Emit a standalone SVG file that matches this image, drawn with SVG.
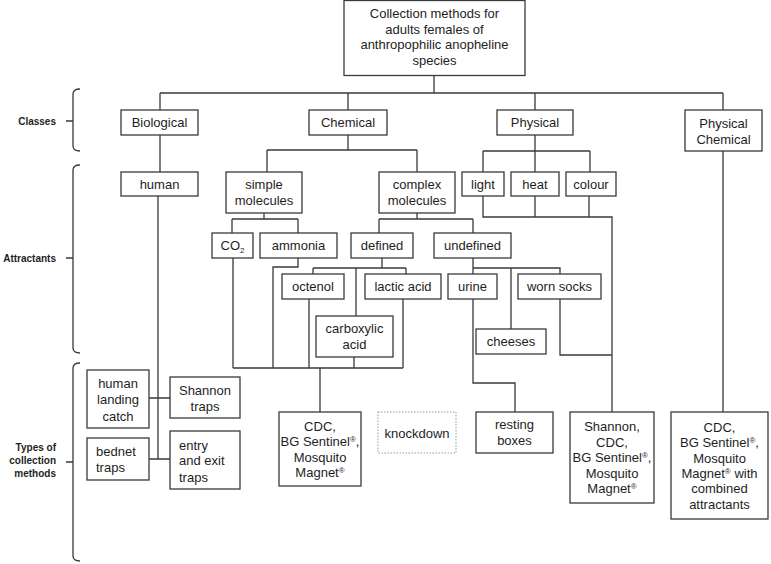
<svg xmlns="http://www.w3.org/2000/svg" width="771" height="564" viewBox="0 0 771 564">
<style>
.b{fill:#fff;stroke:#3a3a3a;stroke-width:1.3}
.d{fill:#fff;stroke:#9a9a9a;stroke-width:1;stroke-dasharray:1.5 1.5}
.c{fill:none;stroke:#3a3a3a;stroke-width:1.3}
text{font-family:"Liberation Sans",Arial,sans-serif;font-size:13px;fill:#1e1e1e}
.m{text-anchor:middle}
.l{font-weight:bold;font-size:10px;text-anchor:end}
.s{font-size:8px}
</style>
<rect width="771" height="564" fill="#fff"/>
<g id="connectors" class="c">
<path d="M434,75V93M160,93H723M160,93V110M348,93V110M535,93V110M723,93V110"/>
<path d="M160,135V172"/>
<path d="M348,135V150M267,150H417M267,150V172M417,150V172"/>
<path d="M535,135V151M483,151H590M483,151V172M535,151V172M590,151V172"/>
<path d="M264,213V219M232,219H298M232,219V233M298,219V233"/>
<path d="M417,213V219M379,219H473M379,219V233M473,219V233"/>
<path d="M382,258V268M313,268H406M313,268V274M406,268V274M356,268V316"/>
<path d="M473,258V268H560V274M511,268V329M473,268V274"/>
<path d="M298,258V267H273V368M233,258V368M309,299V368M354,357V368M403,299V368M233,368H403M320,368V412"/>
<path d="M473,299V383H515V412"/>
<path d="M560,299V355H612"/>
<path d="M483,196V217H612V412M535,196V217M589,196V217"/>
<path d="M723,151V412"/>
<path d="M158,196V459M149,398H170M149,459H170"/>
</g>
<g id="brackets" class="c">
<path d="M80,89Q73,89 73,94V146Q73,151 80,151M66,121H73"/>
<path d="M80,165Q73,165 73,170V348Q73,353 80,353M66,258H73"/>
<path d="M80,363Q73,363 73,368V556Q73,561 80,561M66,462H73"/>
</g>
<g id="labels">
<text class="l" x="56" y="125">Classes</text>
<text class="l" x="56" y="262">Attractants</text>
<text class="l" x="56" y="451">Types of</text>
<text class="l" x="56" y="464">collection</text>
<text class="l" x="56" y="477">methods</text>
</g>
<g id="root"><rect class="b" x="344" y="0.5" width="181" height="75"/>
<text class="m" x="434.5" y="17.5">Collection methods for</text>
<text class="m" x="434.5" y="33.5">adults females of</text>
<text class="m" x="434.5" y="48.5">anthropophilic anopheline</text>
<text class="m" x="434.5" y="64.5">species</text></g>
<g id="biological"><rect class="b" x="121" y="110" width="77" height="25"/><text class="m" x="159.5" y="127">Biological</text></g>
<g id="chemical"><rect class="b" x="309" y="110" width="78" height="25"/><text class="m" x="348" y="127">Chemical</text></g>
<g id="physical"><rect class="b" x="497" y="110" width="76" height="25"/><text class="m" x="535" y="127">Physical</text></g>
<g id="physical-chemical"><rect class="b" x="685" y="110" width="77" height="41"/><text class="m" x="723.5" y="127.5">Physical</text><text class="m" x="723.5" y="143.5">Chemical</text></g>
<g id="human"><rect class="b" x="121" y="172" width="77" height="24"/><text class="m" x="159.5" y="188.5">human</text></g>
<g id="simple"><rect class="b" x="226" y="172" width="76" height="41"/><text class="m" x="264" y="189">simple</text><text class="m" x="264" y="205">molecules</text></g>
<g id="complex"><rect class="b" x="379" y="172" width="76" height="41"/><text class="m" x="417" y="189">complex</text><text class="m" x="417" y="205">molecules</text></g>
<g id="light"><rect class="b" x="462" y="172" width="42" height="24"/><text class="m" x="483" y="188.5">light</text></g>
<g id="heat"><rect class="b" x="511" y="172" width="48" height="24"/><text class="m" x="535" y="188.5">heat</text></g>
<g id="colour"><rect class="b" x="566" y="172" width="50" height="24"/><text class="m" x="591" y="188.5">colour</text></g>
<g id="co2"><rect class="b" x="212" y="233" width="41" height="25"/><text class="m" x="232.5" y="250">CO<tspan class="s" dy="3">2</tspan></text></g>
<g id="ammonia"><rect class="b" x="260" y="233" width="77" height="25"/><text class="m" x="298.5" y="250">ammonia</text></g>
<g id="defined"><rect class="b" x="351" y="233" width="62" height="25"/><text class="m" x="382" y="250">defined</text></g>
<g id="undefined"><rect class="b" x="434" y="233" width="77" height="25"/><text class="m" x="472.5" y="250">undefined</text></g>
<g id="octenol"><rect class="b" x="282" y="274" width="62" height="25"/><text class="m" x="313" y="291">octenol</text></g>
<g id="lactic-acid"><rect class="b" x="365" y="274" width="76" height="25"/><text class="m" x="403" y="291">lactic acid</text></g>
<g id="urine"><rect class="b" x="448" y="274" width="49" height="25"/><text class="m" x="472.5" y="291">urine</text></g>
<g id="worn-socks"><rect class="b" x="518" y="274" width="83" height="25"/><text class="m" x="559.5" y="291">worn socks</text></g>
<g id="carboxylic-acid"><rect class="b" x="316" y="316" width="77" height="41"/><text class="m" x="354.5" y="333">carboxylic</text><text class="m" x="354.5" y="349">acid</text></g>
<g id="cheeses"><rect class="b" x="476" y="329" width="70" height="25"/><text class="m" x="511" y="346">cheeses</text></g>
<g id="human-landing-catch"><rect class="b" x="87" y="370" width="62" height="58"/><text class="m" x="118" y="387.5">human</text><text class="m" x="118" y="403.5">landing</text><text class="m" x="118" y="420.5">catch</text></g>
<g id="shannon-traps"><rect class="b" x="170" y="377" width="70" height="41"/><text class="m" x="205" y="394.5">Shannon</text><text class="m" x="205" y="410.5">traps</text></g>
<g id="bednet-traps"><rect class="b" x="87" y="438" width="62" height="42"/><text x="96" y="455.5">bednet</text><text x="96" y="471.5">traps</text></g>
<g id="entry-exit-traps"><rect class="b" x="170" y="431" width="70" height="58"/><text x="179" y="449.5">entry</text><text x="179" y="464.5">and exit</text><text x="179" y="481.5">traps</text></g>
<g id="cdc-chemical"><rect class="b" x="279" y="412" width="82" height="74"/><text class="m" x="320" y="430.5">CDC,</text><text class="m" x="320" y="445.5">BG Sentinel<tspan class="s" dy="-4">®</tspan><tspan dy="4">,</tspan></text><text class="m" x="320" y="461.5">Mosquito</text><text class="m" x="320" y="476.5">Magnet<tspan class="s" dy="-4">®</tspan></text></g>
<g id="knockdown"><rect class="d" x="378" y="412" width="78" height="41"/><text class="m" x="417" y="437.5">knockdown</text></g>
<g id="resting-boxes"><rect class="b" x="476" y="412" width="77" height="41"/><text class="m" x="514.5" y="428.5">resting</text><text class="m" x="514.5" y="444.5">boxes</text></g>
<g id="shannon-cdc"><rect class="b" x="570" y="412" width="84" height="91"/><text class="m" x="612" y="430.5">Shannon,</text><text class="m" x="612" y="446.5">CDC,</text><text class="m" x="612" y="461.5">BG Sentinel<tspan class="s" dy="-4">®</tspan><tspan dy="4">,</tspan></text><text class="m" x="612" y="477.5">Mosquito</text><text class="m" x="612" y="492.5">Magnet<tspan class="s" dy="-4">®</tspan></text></g>
<g id="cdc-combined"><rect class="b" x="671" y="412" width="97" height="107"/><text class="m" x="719.5" y="431.5">CDC,</text><text class="m" x="719.5" y="446.5">BG Sentinel<tspan class="s" dy="-4">®</tspan><tspan dy="4">,</tspan></text><text class="m" x="719.5" y="462.5">Mosquito</text><text class="m" x="719.5" y="477.5">Magnet<tspan class="s" dy="-4">®</tspan><tspan dy="4"> with</tspan></text><text class="m" x="719.5" y="492.5">combined</text><text class="m" x="719.5" y="508.5">attractants</text></g>
</svg>
